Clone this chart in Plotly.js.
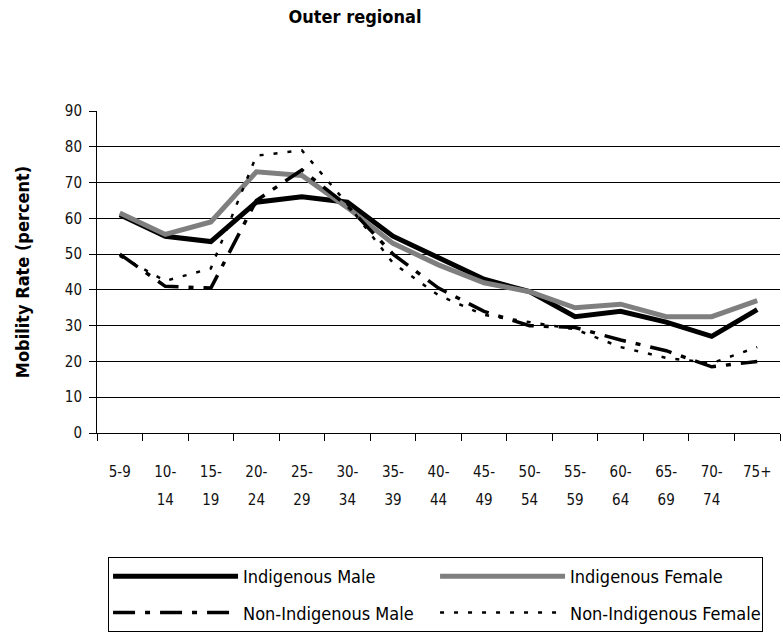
<!DOCTYPE html>
<html>
<head>
<meta charset="utf-8">
<script src="https://cdn.plot.ly/plotly-3.0.1.min.js"></script>
<style>
  html, body { margin: 0; padding: 0; background: #fff; }
  #chart { width: 783px; height: 634px; }
</style>
</head>
<body>
<div id="chart"></div>
<script>
// age groups
const ageGroups = ["5-9", "10-14", "15-19", "20-24", "25-29", "30-34", "35-39", "40-44",
    "45-49", "50-54", "55-59", "60-64", "65-69", "70-74", "75+"];

// mobility rates (percent)
const indigMale = [61, 55, 53.5, 64.5, 66, 64.5, 55, 49, 43, 39.5, 32.5, 34, 31, 27, 34.5];
const indigFemale = [61.5, 55.5, 59, 73, 72, 63, 53, 47, 42, 39.5, 35, 36, 32.5, 32.5, 37];
const nonIndigMale = [50, 41, 40.5, 65, 73.5, 63.5, 50, 40.5, 34, 30, 29.5, 26, 23, 18.5, 20];
const nonIndigFemale = [49.5, 42.5, 46, 77.5, 79, 64, 47.5, 38.5, 33, 31, 29, 24, 21, 19.5, 24];

const chartDiv = document.getElementById("chart");
const condFont = "DejaVu Sans Condensed, Liberation Sans Narrow, Liberation Sans, sans-serif";

// "10-14" -> "10-" over "14"; the big tickfont size only sets line spacing
function tickLabel(s) {
    const i = s.indexOf("-");
    const parts = (i > 0 && s !== "5-9") ? [s.slice(0, i + 1), s.slice(i + 1)] : [s];
    return parts.map(p => '<span style="font-size:15px">' + p + '</span>').join("<br>");
}

function lineTrace(name, y, color, width, dash) {
    return {
        x: ageGroups, y: y,
        type: 'scatter',
        mode: 'lines',
        name: name,
        legendgroup: name,
        line: { color: color, width: width, dash: dash }
    };
}

const traces = [
    lineTrace("Indigenous Male", indigMale, "#000000", 5, "solid"),
    lineTrace("Indigenous Female", indigFemale, "#7f7f7f", 5, "solid"),
    lineTrace("Non-Indigenous Male", nonIndigMale, "#000000", 3.5, "22px,10px,5px,10px"),
    lineTrace("Non-Indigenous Female", nonIndigFemale, "#000000", 2.5, "4px,10px")
];

const layout = {
    width: 783, height: 634,
    margin: { l: 97, r: 3, t: 111, b: 200 },
    paper_bgcolor: "#fff", plot_bgcolor: "#fff",
    font: { family: condFont, size: 15, color: "#111" },
    showlegend: true,
    title: {
        text: "<b>Outer regional</b>",
        font: { family: condFont, size: 18, color: "#000" },
        x: 355 / 783, xanchor: "center", y: 1 - 17 / 634, yanchor: "middle"
    },
    xaxis: {
        type: "category",
        tickson: "boundaries",
        tickmode: "array",
        tickvals: ageGroups,
        ticktext: ageGroups.map(tickLabel),
        ticks: "outside", ticklen: 7, tickcolor: "#000",
        showline: true, linecolor: "#000", linewidth: 1,
        showgrid: false,
        ticklabelstandoff: 18,
        tickfont: { family: condFont, size: 21, color: "#111" },
        range: [-0.5, 14.5]
    },
    yaxis: {
        range: [0, 90], dtick: 10,
        ticks: "outside", ticklen: 7, tickcolor: "#000",
        showline: true, linecolor: "#000", linewidth: 1,
        gridcolor: "#000", gridwidth: 1,
        zeroline: false,
        ticklabelstandoff: 4,
        tickfont: { family: condFont, size: 15, color: "#111" },
        title: {
            text: "<b>Mobility Rate (percent)</b>",
            font: { family: condFont, size: 18, color: "#000" },
            standoff: 30
        }
    },
    legend: {
        orientation: "h",
        x: (108 - 97) / 680, xanchor: "left", y: (434 - 557) / 323, yanchor: "top",
        entrywidth: 187,
        itemwidth: 125,
        tracegroupgap: 10,
        bordercolor: "#000", borderwidth: 1,
        bgcolor: "#fff",
        font: { family: condFont, size: 18, color: "#000" }
    }
};

Plotly.newPlot(chartDiv, traces, layout, { displayModeBar: false, staticPlot: true });
</script>
</body>
</html>
